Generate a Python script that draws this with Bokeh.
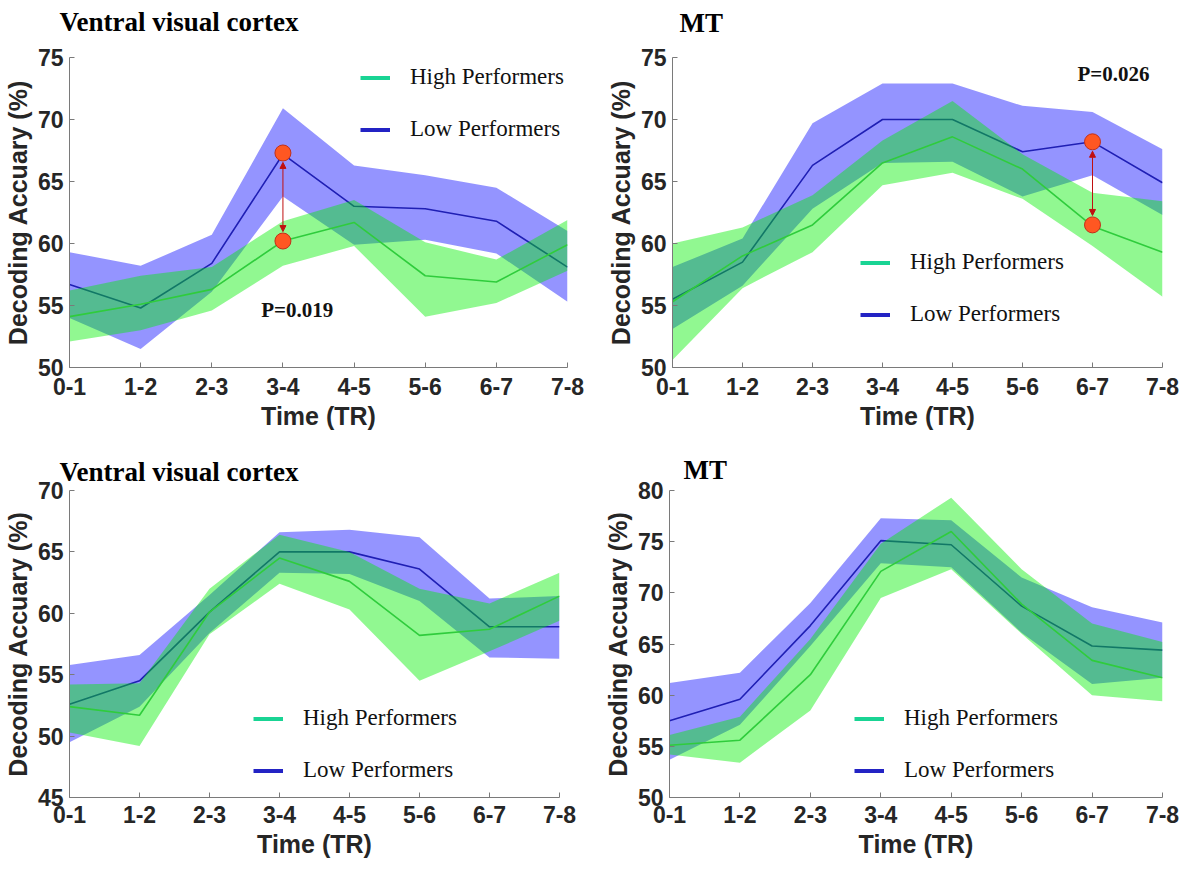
from bokeh.plotting import figure
from bokeh.models import Range1d, FixedTicker, Legend, LegendItem, Label, Arrow, NormalHead, Title
from bokeh.layouts import column, row
from bokeh.embed import file_html
from bokeh.resources import INLINE

# ---------------- data ----------------
time_labels = ["0-1", "1-2", "2-3", "3-4", "4-5", "5-6", "6-7", "7-8"]

# Top-left: Ventral visual cortex
vvc1_high = [54.1, 55.1, 56.3, 60.2, 61.7, 57.4, 56.9, 59.9]
vvc1_high_lo = [52.1, 53.0, 54.6, 58.2, 59.8, 54.1, 55.2, 57.8]
vvc1_high_hi = [56.2, 57.4, 58.1, 61.8, 63.5, 60.1, 58.7, 61.9]
vvc1_low = [56.7, 54.8, 58.4, 67.2, 63.0, 62.8, 61.8, 58.1]
vvc1_low_lo = [54.0, 51.5, 56.1, 63.8, 59.9, 60.3, 59.2, 55.3]
vvc1_low_hi = [59.3, 58.2, 60.7, 70.9, 66.3, 65.5, 64.5, 61.0]
vvc1_sig_time = "3-4"
vvc1_sig_values = [67.3, 60.2]
vvc1_p_text = "P=0.019"

# Top-right: MT
mt1_high = [55.3, 59.0, 61.5, 66.5, 68.6, 66.0, 61.4, 59.3]
mt1_high_lo = [50.6, 56.4, 59.3, 64.7, 65.7, 63.6, 59.8, 55.7]
mt1_high_hi = [60.0, 61.3, 63.9, 68.3, 71.5, 67.2, 64.1, 63.4]
mt1_low = [55.5, 58.5, 66.3, 70.0, 70.0, 67.4, 68.2, 64.9]
mt1_low_lo = [53.1, 56.6, 62.8, 66.5, 66.6, 63.8, 65.5, 62.3]
mt1_low_hi = [58.1, 60.4, 69.7, 72.9, 72.9, 71.1, 70.6, 67.6]
mt1_sig_time = "6-7"
mt1_sig_values = [68.2, 61.5]
mt1_p_text = "P=0.026"

# Bottom-left: Ventral visual cortex
vvc2_high = [52.4, 51.7, 60.1, 64.5, 62.6, 58.2, 58.7, 61.4]
vvc2_high_lo = [50.3, 49.2, 58.3, 62.4, 60.3, 54.5, 56.9, 59.4]
vvc2_high_hi = [54.2, 54.3, 62.0, 66.4, 65.0, 62.0, 60.8, 63.3]
vvc2_low = [52.6, 54.5, 60.1, 65.0, 65.0, 63.6, 58.9, 58.9]
vvc2_low_lo = [49.5, 52.4, 58.4, 63.3, 63.2, 61.0, 56.4, 56.3]
vvc2_low_hi = [55.8, 56.6, 61.5, 66.6, 66.8, 66.2, 61.2, 61.4]

# Bottom-right: MT
mt2_high = [55.1, 55.6, 62.0, 72.1, 76.0, 68.9, 63.4, 61.7]
mt2_high_lo = [54.2, 53.4, 58.5, 69.5, 72.3, 66.0, 60.0, 59.4]
mt2_high_hi = [56.1, 57.9, 65.5, 74.8, 79.3, 72.3, 67.0, 65.2]
mt2_low = [57.5, 59.6, 66.8, 75.1, 74.7, 68.7, 64.8, 64.4]
mt2_low_lo = [53.7, 57.1, 64.8, 72.9, 72.5, 66.1, 61.1, 61.7]
mt2_low_hi = [61.2, 62.2, 69.0, 77.3, 77.1, 71.5, 68.6, 67.1]

yticks_a = [50, 55, 60, 65, 70, 75]
yticks_b = [45, 50, 55, 60, 65, 70]
yticks_c = [50, 55, 60, 65, 70, 75, 80]

legend_labels = ["High Performers", "Low Performers"]

# ---------------- styling ----------------
BLUE_FILL = "#0000ff"
GREEN_FILL = "#00ee00"
BLUE_LINE = "#1f1fb4"
GREEN_LINE = "#2fcc3c"
LEG_GREEN = "#19d494"
LEG_BLUE = "#2323c4"
TXT = "#262626"
AX = "#7a7a7a"
NAN = float("nan")

ITEM_H = 27
ROW_GAP = 52


def panel(title, high, high_lo, high_hi, low, low_lo, low_hi, ylo, yhi, yticks,
          width, height, bl, br, bt, bb, title_dx, title_standoff, title_gap,
          leg_x, leg_row, leg_from_top, tick_standoff=10, sig=None, ptext=None):
    x = list(range(len(time_labels)))
    p = figure(width=width, height=height, output_backend="svg", toolbar_location=None,
               x_range=Range1d(0, len(time_labels) - 1), y_range=Range1d(ylo, yhi),
               min_border_left=bl, min_border_right=br, min_border_top=bt, min_border_bottom=bb)
    p.outline_line_color = None
    p.xgrid.visible = False
    p.ygrid.visible = False
    frame_h = height - bt - bb

    # spacer between title and frame (first added = closest to frame), then the title
    if title_gap > 0:
        p.add_layout(Title(text=" ", text_font_size="1px", standoff=title_gap), "above")
    p.add_layout(Title(text=title, text_font="Liberation Serif", text_font_size="27px",
                       text_font_style="bold", text_color="#000000", align="left",
                       offset=title_dx, standoff=title_standoff), "above")

    p.xaxis.ticker = FixedTicker(ticks=x)
    p.xaxis.major_label_overrides = {i: lab for i, lab in enumerate(time_labels)}
    p.yaxis.ticker = FixedTicker(ticks=yticks)
    p.xaxis.axis_label = "Time (TR)"
    p.yaxis.axis_label = "Decoding Accuary (%)"
    for ax in (p.xaxis, p.yaxis):
        ax.axis_line_color = AX
        ax.major_tick_line_color = AX
        ax.minor_tick_line_color = None
        ax.major_tick_in = 5
        ax.major_tick_out = 0
        ax.major_label_text_font = "Liberation Sans"
        ax.major_label_text_font_style = "bold"
        ax.major_label_text_font_size = "23px"
        ax.major_label_text_color = TXT
        ax.axis_label_text_font = "Liberation Sans"
        ax.axis_label_text_font_style = "bold"
        ax.axis_label_text_font_size = "25px"
        ax.axis_label_text_color = TXT
    p.xaxis.major_label_standoff = tick_standoff
    p.xaxis.axis_label_standoff = 4
    p.yaxis.major_label_standoff = 6
    p.yaxis.axis_label_standoff = 3

    p.varea(x=x, y1=low_lo, y2=low_hi, fill_color=BLUE_FILL, fill_alpha=0.42)
    p.line(x, low, line_color=BLUE_LINE, line_width=1.6)
    p.varea(x=x, y1=high_lo, y2=high_hi, fill_color=GREEN_FILL, fill_alpha=0.43)
    p.line(x, high, line_color=GREEN_LINE, line_width=1.6)

    ppu = frame_h / (yhi - ylo)
    if sig is not None:
        st, vals = sig
        sx = time_labels.index(st)
        p.scatter([sx] * len(vals), vals, size=16, fill_color="#ff5722",
                  line_color="#c0301a", line_width=1)
        d = 9.5 / ppu
        top, bot = max(vals), min(vals)
        p.add_layout(Arrow(start=NormalHead(size=6, fill_color="#c01010", line_color="#c01010"),
                           end=NormalHead(size=6, fill_color="#c01010", line_color="#c01010"),
                           x_start=sx, y_start=bot + d, x_end=sx, y_end=top - d,
                           line_color="#c01010", line_width=1))
    if ptext is not None:
        txt, px, py = ptext
        p.add_layout(Label(x=px, y=py, text=txt, text_font="Liberation Serif",
                           text_font_style="bold", text_font_size="21px",
                           text_color="#111111", text_align="center", text_baseline="middle"))

    r_hi = p.line(x=[NAN], y=[NAN], line_color=LEG_GREEN, line_width=4)
    r_lo = p.line(x=[NAN], y=[NAN], line_color=LEG_BLUE, line_width=4)
    spacing = ROW_GAP - ITEM_H
    box_h = 2 * ITEM_H + spacing
    if leg_from_top:
        vy = frame_h - (leg_row - ITEM_H / 2) - box_h
    else:
        vy = leg_row - ITEM_H / 2
    legend = Legend(items=[LegendItem(label=legend_labels[0], renderers=[r_hi]),
                           LegendItem(label=legend_labels[1], renderers=[r_lo])],
                    location=(leg_x, vy),
                    glyph_width=30, glyph_height=ITEM_H, label_height=ITEM_H, label_standoff=20,
                    spacing=spacing, padding=0, margin=0,
                    border_line_color=None, background_fill_alpha=0,
                    label_text_font="Liberation Serif", label_text_font_size="23px",
                    label_text_color="#111111")
    p.add_layout(legend)
    return p


p1 = panel("Ventral visual cortex", vvc1_high, vvc1_high_lo, vvc1_high_hi,
           vvc1_low, vvc1_low_lo, vvc1_low_hi, 50, 75, yticks_a,
           603, 432, 62, 36, 57, 63, -10, 6, 15, 291, 22, True,
           sig=(vvc1_sig_time, vvc1_sig_values), ptext=(vvc1_p_text, 3.2, 54.6))
p2 = panel("MT", mt1_high, mt1_high_lo, mt1_high_hi,
           mt1_low, mt1_low_lo, mt1_low_hi, 50, 75, yticks_a,
           577, 432, 62, 18, 57, 63, 7, 6, 14, 188, 53, False,
           sig=(mt1_sig_time, mt1_sig_values), ptext=(mt1_p_text, 6.3, 73.7))
p3 = panel("Ventral visual cortex", vvc2_high, vvc2_high_lo, vvc2_high_hi,
           vvc2_low, vvc2_low_lo, vvc2_low_hi, 45, 70, yticks_b,
           600, 428, 62, 41, 58, 59, -10, 8, 0, 184, 27, False, tick_standoff=8)
p4 = panel("MT", mt2_high, mt2_high_lo, mt2_high_hi,
           mt2_low, mt2_low_lo, mt2_low_hi, 50, 80, yticks_c,
           580, 428, 62, 18, 58, 59, 14, 12, 0, 185, 27, False, tick_standoff=8)

layout = column(row(p1, p2), row(p3, p4))
open("out.html", "w").write(file_html(layout, INLINE))
